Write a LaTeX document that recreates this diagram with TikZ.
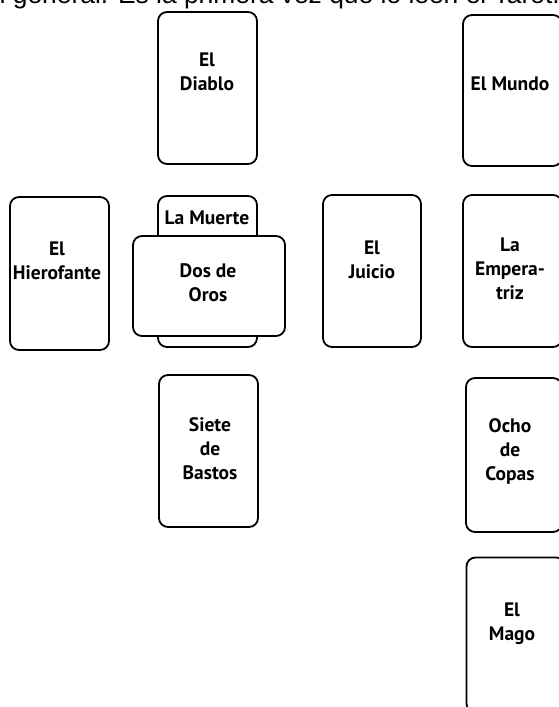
\documentclass[tikz,border=0pt]{standalone}
\usepackage{fontspec}
\setmainfont{PT Sans}
\newfontfamily\topfont{Liberation Sans}
\begin{document}
\begin{tikzpicture}[x=1pt,y=-1pt,
  card/.style={draw=black,line width=1.8pt,rounded corners=9pt,fill=white,
    inner sep=0pt,outer sep=0pt,rectangle},
  lbl/.style={font=\fontsize{19.5}{24}\selectfont\bfseries,align=center,inner sep=0pt}]
\useasboundingbox (0,0) rectangle (559,707);
\clip (0,0) rectangle (559,707);
\node[anchor=base west,inner sep=0pt,font=\topfont\fontsize{26.4}{30}\selectfont] (top) at (-24,3) {en general. Es la primera vez que lo leen el Tarot.};
% cards
\node[card,minimum width=99pt,minimum height=152pt] (diablo) at (207.5,88) {};
\node[card,minimum width=99pt,minimum height=151pt] (mundo) at (512.5,90.5) {};
\node[card,minimum width=99pt,minimum height=153pt] (hierofante) at (59.5,273.5) {};
\node[card,minimum width=99pt,minimum height=151pt] (muerte) at (207.5,271.5) {};
\node[card,minimum width=152pt,minimum height=100pt] (oros) at (209,286) {};
\node[card,minimum width=98pt,minimum height=152pt] (juicio) at (372,271) {};
\node[card,minimum width=99pt,minimum height=152pt] (emperatriz) at (512.5,271) {};
\node[card,minimum width=99pt,minimum height=152pt] (siete) at (208.5,451) {};
\node[card,minimum width=96pt,minimum height=154pt] (ocho) at (514,455) {};
\node[card,minimum width=99pt,minimum height=155pt] (mago) at (516,635) {};
% labels
\node[lbl] (tdiablo) at (207,72) {El\\Diablo};
\node[lbl] (tmundo) at (510,84) {El Mundo};
\node[lbl] (thierofante) at (57,260.5) {El\\Hierofante};
\node[lbl] (tmuerte) at (207,218) {La Muerte};
\node[lbl] (toros) at (208,282.5) {Dos de\\Oros};
\node[lbl] (tjuicio) at (372,260) {El\\Juicio};
\node[lbl] (temperatriz) at (510,268.5) {La\\Empera-\\triz};
\node[lbl] (tsiete) at (210,449) {Siete\\de\\Bastos};
\node[lbl] (tocho) at (510,451.5) {Ocho\\de\\Copas};
\node[lbl] (tmago) at (512,624) {El\\Mago};
\end{tikzpicture}
\end{document}
